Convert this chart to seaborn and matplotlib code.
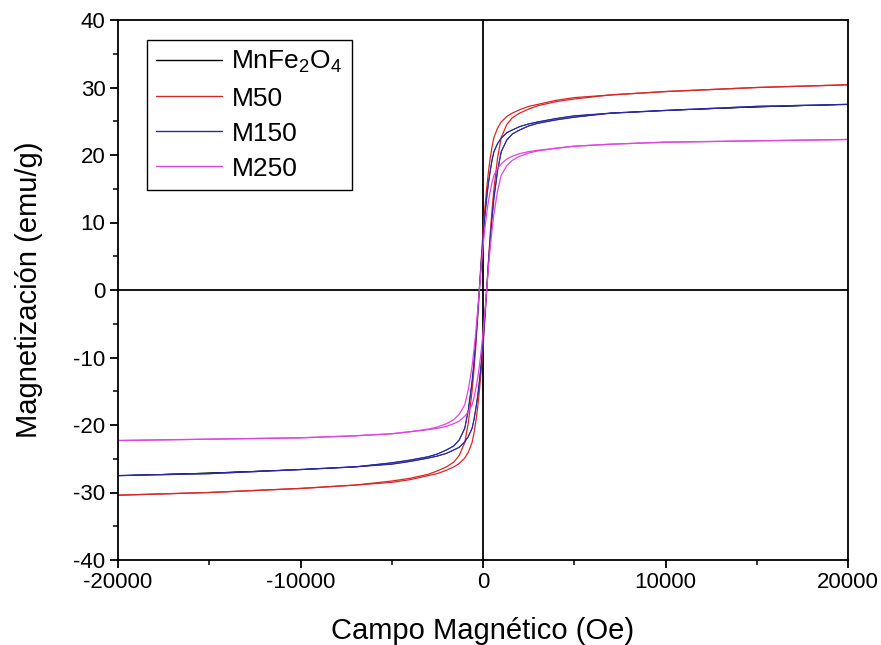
import numpy as np
import pandas as pd
import matplotlib
matplotlib.use("Agg")
import matplotlib.pyplot as plt
import seaborn as sns

# ---------------- data ----------------
samples = ["MnFe$_2$O$_4$", "M50", "M150", "M250"]
colors = ["#000000", "#d8262a", "#2a2aa8", "#e044e0"]

# descending branch fields (Oe), +20000 -> -20000
field_down = [20000, 15000, 10000, 7000, 5000, 4000, 3000, 2500, 2000, 1600, 1300,
              1000, 800, 600, 500, 400, 300, 200, 100, 0, -100, -200, -300, -400,
              -500, -600, -800, -1000, -1300, -1600, -2000, -2500, -3000, -4000,
              -5000, -7000, -10000, -15000, -20000]
# ascending branch fields (Oe), -20000 -> +20000
field_up = [-20000, -15000, -10000, -7000, -5000, -4000, -3000, -2500, -2000, -1600,
            -1300, -1000, -800, -600, -500, -400, -300, -200, -100, 0, 100, 200, 300,
            400, 500, 600, 800, 1000, 1300, 1600, 2000, 2500, 3000, 4000, 5000, 7000,
            10000, 15000, 20000]

# MnFe2O4 (hidden beneath the other curves)
mnfe_down = [27.5, 27.1, 26.6, 26.2, 25.8, 25.4, 24.9, 24.6, 24.2, 23.7, 23.3, 22.5,
             21.7, 20.5, 19.3, 17.7, 15.9, 13.6, 10.9, 7.7, 4.0, 0.0, -4.0, -7.7,
             -10.9, -13.6, -17.7, -20.5, -22.2, -23.1, -23.7, -24.3, -24.7, -25.2,
             -25.6, -26.2, -26.6, -27.1, -27.5]
mnfe_up = [-27.5, -27.1, -26.6, -26.2, -25.8, -25.4, -24.9, -24.6, -24.2, -23.7, -23.3,
           -22.5, -21.7, -20.5, -19.3, -17.7, -15.9, -13.6, -10.9, -7.7, -4.0, 0.0, 4.0,
           7.7, 10.9, 13.6, 17.7, 20.5, 22.2, 23.1, 23.7, 24.3, 24.7, 25.2, 25.6, 26.2,
           26.6, 27.1, 27.5]

m50_down = [30.4, 30.0, 29.4, 28.9, 28.5, 28.1, 27.5, 27.2, 26.7, 26.2, 25.7, 24.9,
            24.0, 22.6, 21.3, 19.6, 17.6, 15.0, 12.0, 8.5, 4.4, 0.0, -4.4, -8.5,
            -12.0, -15.0, -19.6, -22.6, -24.5, -25.5, -26.2, -26.8, -27.3, -27.9,
            -28.3, -28.9, -29.4, -30.0, -30.4]
m50_up = [-30.4, -30.0, -29.4, -28.9, -28.5, -28.1, -27.5, -27.2, -26.7, -26.2, -25.7,
          -24.9, -24.0, -22.6, -21.3, -19.6, -17.6, -15.0, -12.0, -8.5, -4.4, 0.0, 4.4,
          8.5, 12.0, 15.0, 19.6, 22.6, 24.5, 25.5, 26.2, 26.8, 27.3, 27.9, 28.3, 28.9,
          29.4, 30.0, 30.4]

m150_down = [27.5, 27.2, 26.6, 26.2, 25.8, 25.4, 24.9, 24.6, 24.2, 23.7, 23.3, 22.5,
             21.7, 20.5, 19.3, 17.7, 15.9, 13.6, 10.9, 7.7, 4.0, 0.0, -4.0, -7.7,
             -10.9, -13.6, -17.7, -20.5, -22.2, -23.1, -23.7, -24.3, -24.7, -25.2,
             -25.6, -26.2, -26.6, -27.2, -27.5]
m150_up = [-27.5, -27.2, -26.6, -26.2, -25.8, -25.4, -24.9, -24.6, -24.2, -23.7, -23.3,
           -22.5, -21.7, -20.5, -19.3, -17.7, -15.9, -13.6, -10.9, -7.7, -4.0, 0.0, 4.0,
           7.7, 10.9, 13.6, 17.7, 20.5, 22.2, 23.1, 23.7, 24.3, 24.7, 25.2, 25.6, 26.2,
           26.6, 27.2, 27.5]

m250_down = [22.3, 22.1, 21.9, 21.6, 21.3, 21.0, 20.7, 20.5, 20.2, 19.8, 19.4, 18.7,
             18.0, 17.0, 16.0, 14.7, 13.2, 11.3, 9.0, 6.4, 3.3, 0.0, -3.3, -6.4,
             -9.0, -11.3, -14.7, -17.0, -18.4, -19.2, -19.8, -20.3, -20.6, -21.0,
             -21.3, -21.6, -21.9, -22.1, -22.3]
m250_up = [-22.3, -22.1, -21.9, -21.6, -21.3, -21.0, -20.7, -20.5, -20.2, -19.8, -19.4,
           -18.7, -18.0, -17.0, -16.0, -14.7, -13.2, -11.3, -9.0, -6.4, -3.3, 0.0, 3.3,
           6.4, 9.0, 11.3, 14.7, 17.0, 18.4, 19.2, 19.8, 20.3, 20.6, 21.0, 21.3, 21.6,
           21.9, 22.1, 22.3]

x_ticks = [-20000, -10000, 0, 10000, 20000]
y_ticks = [-40, -30, -20, -10, 0, 10, 20, 30, 40]
x_label = "Campo Magnético (Oe)"
y_label = "Magnetización (emu/g)"

# ---------------- build long table ----------------
down_vals = [mnfe_down, m50_down, m150_down, m250_down]
up_vals = [mnfe_up, m50_up, m150_up, m250_up]
rows = []
for name, dv, uv in zip(samples, down_vals, up_vals):
    for i, (h, m) in enumerate(zip(field_down, dv)):
        rows.append((name, "down", i, h, m))
    for i, (h, m) in enumerate(zip(field_up, uv)):
        rows.append((name, "up", len(field_down) + i, h, m))
df = pd.DataFrame(rows, columns=["sample", "branch", "order", "H", "M"])

# ---------------- style ----------------
sns.set_theme(style="ticks")
plt.rcParams["font.family"] = ["Liberation Sans", "DejaVu Sans"]
plt.rcParams["mathtext.fontset"] = "custom"
plt.rcParams["mathtext.rm"] = "Liberation Sans"
plt.rcParams["mathtext.it"] = "Liberation Sans:italic"
plt.rcParams["axes.unicode_minus"] = False
plt.rcParams["text.color"] = "black"
plt.rcParams["axes.labelcolor"] = "black"

fig = plt.figure(figsize=(8.81, 6.45), dpi=100)
ax = fig.add_axes([118 / 881, 85 / 645, (848 - 118) / 881, (560 - 20) / 645])

palette = dict(zip(samples, colors))
sns.lineplot(data=df, x="H", y="M", hue="sample", units="branch", estimator=None,
             sort=False, palette=palette, hue_order=samples, linewidth=0.9,
             ax=ax, legend="full")
# make the hidden MnFe2O4 trace thinner so it stays beneath the others
for ln in ax.get_lines():
    if ln.get_color() in ("#000000", "black", (0.0, 0.0, 0.0, 1.0)):
        ln.set_linewidth(0.5)

ax.axhline(0, color="black", lw=1.3, zorder=0)
ax.axvline(0, color="black", lw=1.3, zorder=0)

ax.set_xlim(-20000, 20000)
ax.set_ylim(-40, 40)
ax.set_xticks(x_ticks)
ax.set_yticks(y_ticks)
ax.set_xticks([-15000, -5000, 5000, 15000], minor=True)
ax.set_yticks([-35, -25, -15, -5, 5, 15, 25, 35], minor=True)
ax.tick_params(axis="both", which="major", direction="out", length=6, width=1.3,
               labelsize=16, colors="black", pad=3)
ax.tick_params(axis="both", which="minor", direction="out", length=3.5, width=1.3)
ax.tick_params(top=False, right=False, which="both")
for s in ax.spines.values():
    s.set_linewidth(1.3)
    s.set_color("black")

ax.set_xlabel(x_label, fontsize=21, labelpad=17, color="black")
ax.set_ylabel(y_label, fontsize=21, labelpad=22, color="black")

handles, labels = ax.get_legend_handles_labels()
leg = ax.legend(handles, labels, loc="upper left",
                bbox_to_anchor=(147 / 881, 1 - 40 / 645), bbox_transform=fig.transFigure,
                fontsize=19, frameon=True, fancybox=False, edgecolor="black",
                framealpha=1, borderaxespad=0, borderpad=0.35, handlelength=2.5,
                handletextpad=0.35, labelspacing=0.42)
leg.get_frame().set_linewidth(1.0)
for lh in leg.get_lines():
    lh.set_linewidth(1.0)

fig.savefig("out.png", dpi=100)
